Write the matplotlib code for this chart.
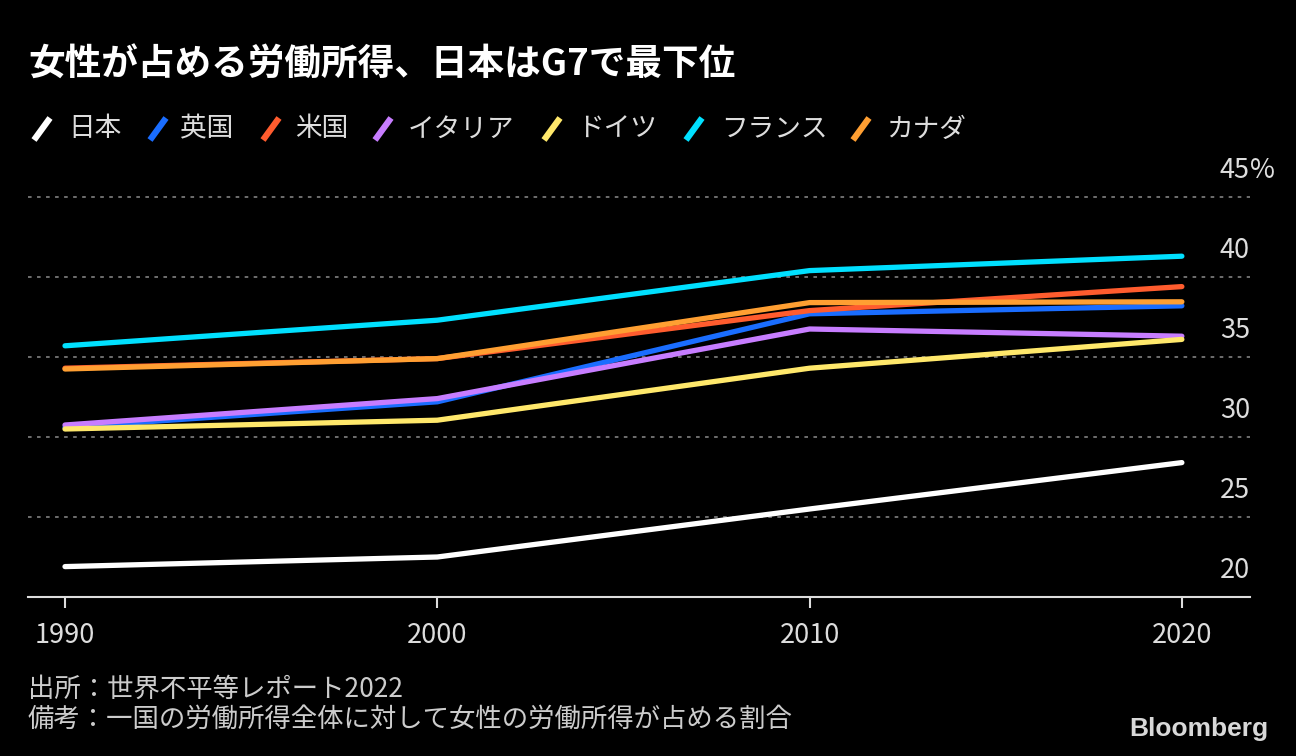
import matplotlib
matplotlib.use("Agg")
import matplotlib.pyplot as plt
from matplotlib.lines import Line2D
from matplotlib.transforms import blended_transform_factory, offset_copy

plt.rcParams['font.family'] = ['Noto Sans CJK JP', 'DejaVu Sans']

# ---- data ----
years = [1990, 2000, 2010, 2020]
countries = ["日本", "英国", "米国", "イタリア", "ドイツ", "フランス", "カナダ"]
colors = ["#ffffff", "#1a6dff", "#ff5c2e", "#c77dff", "#ffe86b", "#00e0ff", "#ff9f32"]
japan = [21.9, 22.5, 25.5, 28.4]
uk = [30.6, 32.2, 37.7, 38.2]
us = [34.3, 34.9, 37.9, 39.4]
italy = [30.75, 32.4, 36.75, 36.3]
germany = [30.5, 31.05, 34.3, 36.1]
france = [35.7, 37.3, 40.4, 41.3]
canada = [34.25, 34.9, 38.4, 38.45]
series = [japan, uk, us, italy, germany, france, canada]
yticks = [20, 25, 30, 35, 40, 45]
ytick_labels = ["20", "25", "30", "35", "40", "45"]
unit_label = "%"
xtick_labels = ["1990", "2000", "2010", "2020"]

title = "女性が占める労働所得、日本はG7で最下位"
source = "出所：世界不平等レポート2022"
note = "備考：一国の労働所得全体に対して女性の労働所得が占める割合"

W, H = 1296, 756
fig = plt.figure(figsize=(W / 100, H / 100), dpi=100, facecolor="black")

left, right = 28, 1250
bottom_px, top_px = 597, 181
ax = fig.add_axes([left / W, (H - bottom_px) / H, (right - left) / W, (bottom_px - top_px) / H])
ax.set_facecolor("black")
ax.set_xlim(1989.006, 2021.83)
ax.set_ylim(20, 46)

# gridlines
for v in yticks[1:]:
    ax.axhline(v, color="#777777", lw=1.3, ls=(0, (2, 3)), zorder=1)

order = [1, 2, 3, 4, 6, 5, 0]
for i in order:
    ax.plot(years, series[i], color=colors[i], lw=3.8, solid_capstyle="round",
            solid_joinstyle="round", zorder=3)

for s in ["top", "right", "left"]:
    ax.spines[s].set_visible(False)
ax.spines["bottom"].set_color("#dddddd")
ax.spines["bottom"].set_linewidth(1.5)
ax.set_yticks([])
ax.set_xticks(years)
ax.set_xticklabels(xtick_labels)
ax.tick_params(axis="x", colors="#dddddd", labelcolor="#dddddd", length=8, width=1.5,
               labelsize=19.5, pad=10)

trans = blended_transform_factory(ax.transAxes, ax.transData)
t = offset_copy(trans, fig=fig, x=0, y=9, units="points")
for v, lab in zip(yticks, ytick_labels):
    ax.text(1.0, v, lab, transform=t, ha="right", va="bottom", color="#dddddd", fontsize=19.5)
ax.text(1.0, yticks[-1], unit_label, transform=t, ha="left", va="bottom",
        color="#dddddd", fontsize=19.5)

# title
fig.text(28 / W, 1 - 65 / H, title, color="white", fontsize=26.4, fontweight="bold",
         ha="left", va="center")

# legend
mark_x = [32, 148, 261, 373, 542, 684, 851]
text_x = [68, 180, 295, 408, 577, 721, 886]
ly = 129
for i, name in enumerate(countries):
    x0 = mark_x[i]
    fig.add_artist(Line2D([(x0 + 2) / W, (x0 + 18) / W], [1 - (ly + 11) / H, 1 - (ly - 11) / H],
                          transform=fig.transFigure, color=colors[i], lw=4.5,
                          solid_capstyle="butt"))
    fig.text(text_x[i] / W, 1 - ly / H, name, color="#dddddd", fontsize=19.2,
             ha="left", va="center")

# footer
fig.text(28 / W, 1 - 689 / H, source, color="#cccccc", fontsize=19, ha="left", va="center")
fig.text(28 / W, 1 - 719 / H, note, color="#cccccc", fontsize=19, ha="left", va="center")
fig.text(1268 / W, 1 - 729 / H, "Bloomberg", color="#d8d8d8", fontsize=19, fontweight="bold",
         family="Liberation Sans", ha="right", va="center")

fig.savefig("out.png", dpi=100, facecolor="black")
